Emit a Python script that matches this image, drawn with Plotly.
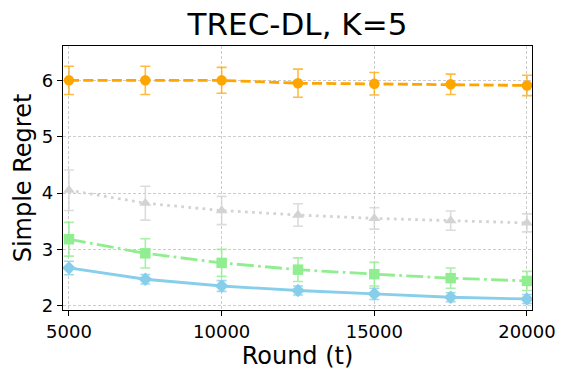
import plotly.graph_objects as go

rounds = [5000, 7500, 10000, 12500, 15000, 17500, 20000]

orange_vals = [6.00, 6.00, 6.00, 5.95, 5.94, 5.93, 5.91]
orange_err = [0.25, 0.25, 0.23, 0.25, 0.20, 0.18, 0.18]

gray_vals = [4.05, 3.82, 3.69, 3.61, 3.55, 3.51, 3.47]
gray_err = [0.36, 0.30, 0.25, 0.20, 0.19, 0.17, 0.16]

green_vals = [3.18, 2.93, 2.76, 2.64, 2.56, 2.49, 2.44]
green_err = [0.30, 0.26, 0.24, 0.21, 0.21, 0.18, 0.17]

blue_vals = [2.67, 2.47, 2.35, 2.27, 2.21, 2.15, 2.12]
blue_err = [0.12, 0.085, 0.095, 0.08, 0.10, 0.08, 0.08]

x_ticks = [5000, 10000, 15000, 20000]
y_ticks = [2, 3, 4, 5, 6]

series = [
    ("orange", orange_vals, orange_err, "#FFA500", "rgba(255,165,0,0.75)", "10px,4.3px", "circle"),
    ("gray", gray_vals, gray_err, "#D3D3D3", "rgba(211,211,211,0.8)", "2.7px,4.4px", "triangle-up"),
    ("green", green_vals, green_err, "#90EE90", "rgba(144,238,144,0.8)", "17px,4.3px,2.7px,4.3px", "square"),
    ("blue", blue_vals, blue_err, "#87CEEB", "rgba(135,206,235,0.8)", "solid", "diamond"),
]

fig = go.Figure()
for name, vals, err, color, ecolor, dash, sym in series:
    fig.add_trace(go.Scatter(
        x=rounds, y=vals, name=name, mode="lines+markers",
        line=dict(color=color, width=2.8, dash=dash),
        marker=dict(color=color, size=10.5, symbol=sym),
        error_y=dict(type="data", array=err, visible=True, color=ecolor,
                     thickness=1.6, width=5),
    ))

font_family = "DejaVu Sans, sans-serif"
fig.update_layout(
    width=571, height=381,
    margin=dict(l=63, r=39, t=46, b=71),
    paper_bgcolor="white", plot_bgcolor="white",
    showlegend=False,
    title=dict(text="TREC-DL, K=5", x=0.5, xref="paper", xanchor="center",
               y=1 - 24.5 / 381, yref="container", yanchor="middle",
               font=dict(family=font_family, size=31, color="black")),
    font=dict(family=font_family, color="black"),
)
fig.update_xaxes(
    range=[4804, 20164], tickvals=x_ticks, ticktext=[str(v) for v in x_ticks],
    tickfont=dict(size=18), title=dict(text="Round (t)", font=dict(size=24), standoff=3),
    showline=True, linecolor="black", linewidth=1.2, mirror=True,
    ticks="outside", ticklen=5, tickcolor="black", tickwidth=1.2,
    showgrid=True, gridcolor="#CCCCCC", griddash="3px,2px", gridwidth=0.8, zeroline=False,
)
fig.update_yaxes(
    range=[1.924, 6.61], tickvals=y_ticks, ticktext=[str(v) for v in y_ticks],
    tickfont=dict(size=18), title=dict(text="Simple Regret", font=dict(size=24), standoff=3),
    showline=True, linecolor="black", linewidth=1.2, mirror=True,
    ticks="outside", ticklen=5, tickcolor="black", tickwidth=1.2,
    showgrid=True, gridcolor="#CCCCCC", griddash="3px,2px", gridwidth=0.8, zeroline=False,
)

# remove the browser's default 8px body margin so the figure fills the window
fig.write_html("out.html", config={"displayModeBar": False},
               post_script="document.body.style.margin='0';")
